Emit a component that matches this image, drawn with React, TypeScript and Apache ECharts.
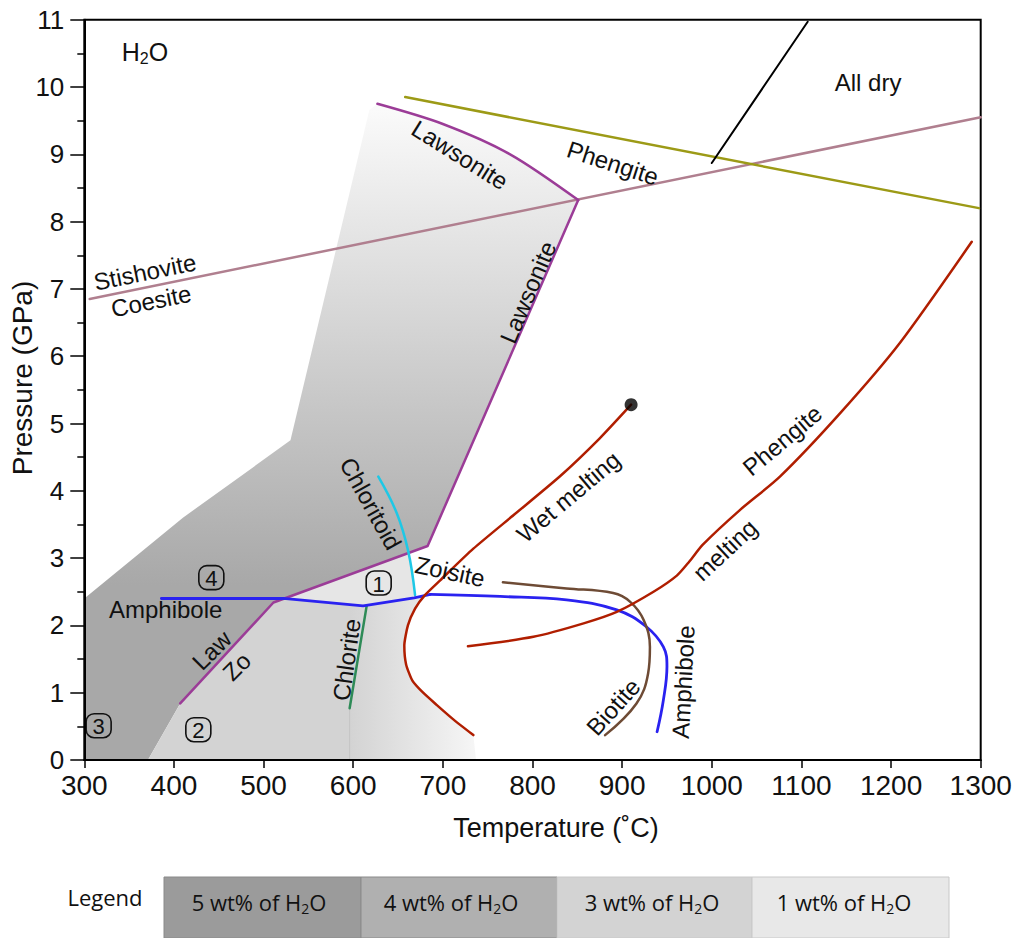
import React, { useEffect, useRef } from 'react';
import * as echarts from 'echarts';

const FONT = 'Liberation Sans, Arial, Helvetica, sans-serif';
const LFONT = 'Open Sans, Noto Sans, sans-serif';

// Axes
const tempMin = 300, tempMax = 1300, tempStep = 100;
const pressMin = 0, pressMax = 11, pressStep = 1;

// Reaction curves (T in °C, P in GPa)
const lawsoniteTop = [[627, 9.75], [700, 9.45], [775, 9.0], [851, 8.32]];
const lawsoniteLower = [[851, 8.32], [683, 3.18], [511, 2.34], [407, 0.84]];
const amphiboleStraight = [[386, 2.40], [522, 2.40], [611, 2.29], [668, 2.41], [686, 2.46]];
const amphiboleCurve = [[686, 2.46], [764, 2.43], [838, 2.38], [894, 2.23], [927, 1.98], [946, 1.68], [950, 1.39], [946, 0.89], [939, 0.42]];
const biotite = [[767, 2.64], [838, 2.55], [890, 2.48], [909, 2.35], [924, 2.08], [931, 1.68], [929, 1.29], [916, 0.84], [881, 0.37]];
const chloritoid = [[628, 4.21], [648.5, 3.67], [661.4, 3.10], [669, 2.45]];
const chlorite = [[615, 2.29], [596, 0.77]];
const chloriteFaint = [[596, 0.77], [596, 0]];
const wetMelting = [[910, 5.28], [875, 4.78], [831, 4.22], [779, 3.64], [734, 3.14], [697, 2.67], [680, 2.45], [669, 2.25], [661, 2.0], [657, 1.70], [659, 1.42], [666, 1.18], [678, 1.0], [693, 0.82], [712, 0.60], [734, 0.37]];
const wetSolidusEnd = [[910, 5.28]];
const phengiteMelting = [[728, 1.69], [801, 1.83], [857, 2.03], [894, 2.20], [935, 2.50], [961, 2.74], [975, 2.95], [990, 3.20], [1031, 3.71], [1076, 4.21], [1143, 5.15], [1210, 6.20], [1290, 7.70]];
const stishoviteCoesite = [[306, 6.85], [1300, 9.55]];
const phengiteOut = [[658, 9.85], [1298, 8.20]];
const allDry = [[1000, 8.87], [1107, 10.97]];

// Shaded water-content fields
const field5wt = [[300, 0], [300, 2.4], [410, 3.6], [530, 4.75], [618, 9.66], ...lawsoniteTop, [683, 3.18], [511, 2.34], [407, 0.84], [371, 0]];
const field3wtUpper = [[371, 0], [407, 0.84], [511, 2.34], [522, 2.40], [611, 2.29], [668, 2.41]];
const field3wt = [...field3wtUpper, ...wetMelting.slice(6), [737, 0]];
const field1wt = [[522, 2.40], [662, 3.08], [665, 2.80], [669, 2.42], [611, 2.29]];

// Labels
const labelText = ['Lawsonite', 'Phengite', 'Lawsonite', 'Stishovite', 'Coesite', 'Chloritoid', 'Zoisite', 'Amphibole', 'Law', 'Zo', 'Chlorite', 'Wet melting', 'Phengite', 'melting', 'Biotite', 'Amphibole', 'All dry'];
const labelT = [719, 889.6, 795, 367.7, 374.5, 619.5, 708, 390.8, 442.1, 470, 592.7, 840, 1078.7, 1014.7, 890.1, 968.2, 1174.4];
const labelP = [8.99, 8.87, 6.95, 7.25, 6.82, 3.81, 2.80, 2.23, 1.63, 1.39, 1.49, 3.91, 4.75, 3.12, 0.79, 1.16, 10.07];
const labelRot = [-32, -18, 67, 11.5, 11.5, -61, -12, 0, 45, 45, 82, 40, 40, 43, 48, 87, 0];

const fieldNumbers = ['1', '2', '3', '4'];
const fieldNumT = [628.4, 427.2, 316, 441.7];
const fieldNumP = [2.63, 0.45, 0.51, 2.71];

const legendItems = ['5 wt% of H', '4 wt% of H', '3 wt% of H', '1 wt% of H'];
const legendColors = ['#9b9b9b', '#b0b0b0', '#d3d3d3', '#e8e8e8'];

const polySeries = (pts: number[][], fill: (api: any) => any) => ({
  type: 'custom',
  coordinateSystem: 'cartesian2d',
  silent: true,
  z: 1,
  data: pts,
  renderItem: (params: any, api: any) => {
    if (params.dataIndex !== 0) return null;
    return {
      type: 'polygon',
      shape: { points: pts.map((p) => api.coord(p)) },
      style: { fill: fill(api) },
    };
  },
});

const lineSeries = (data: number[][], color: string, width = 2.5, smooth: number | boolean = false) => ({
  type: 'line',
  data,
  symbol: 'none',
  showSymbol: false,
  smooth,
  silent: true,
  clip: false,
  z: 3,
  lineStyle: { color, width, cap: 'round', join: 'round' },
});

export default function App() {
  const ref = useRef<HTMLDivElement>(null);
  useEffect(() => {
    const chart = echarts.init(ref.current!, null, { renderer: 'svg' });
    const legendX = [164, 361, 557, 752];
    const legendW = [197, 196, 195, 197];
    const legendTextX = [259, 451, 652, 844];
    const graphic: any[] = [
      {
        type: 'text', x: 22, y: 378, rotation: Math.PI / 2,
        style: { text: 'Pressure (GPa)', fontSize: 28, fontFamily: FONT, fill: '#111', align: 'center', verticalAlign: 'middle' },
      },
      {
        type: 'text', x: 556, y: 828,
        style: { text: 'Temperature (˚C)', fontSize: 27, fontFamily: FONT, fill: '#111', align: 'center', verticalAlign: 'middle' },
      },
      {
        type: 'text', x: 105, y: 897,
        style: { text: 'Legend', fontSize: 22, fontFamily: LFONT, fill: '#111', align: 'center', verticalAlign: 'middle' },
      },
    ];
    legendItems.forEach((t, i) => {
      graphic.push({
        type: 'rect',
        shape: { x: legendX[i], y: 877, width: legendW[i], height: 61 },
        style: { fill: legendColors[i], stroke: i < 2 ? '#8a8a8a' : '#c8c8c8', lineWidth: 1 },
      });
      graphic.push({
        type: 'text', x: legendTextX[i], y: 902,
        style: {
          text: `{n|${t}}{s|2}{n|O}`,
          align: 'center', verticalAlign: 'middle',
          rich: {
            n: { fontSize: 22, fontFamily: LFONT, fill: '#111', lineHeight: 26 },
            s: { fontSize: 14, fontFamily: LFONT, fill: '#111', lineHeight: 16, verticalAlign: 'bottom' },
          },
        },
      });
    });

    const option: any = {
      animation: false,
      backgroundColor: '#fff',
      textStyle: { fontFamily: FONT },
      grid: { left: 84.3, right: 36.3, top: 19.7, bottom: 178, show: true, borderColor: '#000', borderWidth: 2, backgroundColor: 'transparent' },
      xAxis: {
        type: 'value', min: tempMin, max: tempMax, interval: tempStep, z: 10,
        axisLine: { lineStyle: { color: '#000', width: 2 } },
        axisTick: { length: 8, lineStyle: { color: '#000', width: 1.5 } },
        axisLabel: { fontSize: 28, color: '#111', margin: 11, fontFamily: FONT, formatter: (v: number) => String(v) },
        splitLine: { show: false },
      },
      yAxis: {
        type: 'value', min: pressMin, max: pressMax, interval: pressStep, z: 10,
        axisLine: { lineStyle: { color: '#000', width: 2 } },
        axisTick: { length: 14, lineStyle: { color: '#000', width: 1.5 } },
        minorTick: { show: true, splitNumber: 2, length: 7, lineStyle: { color: '#000', width: 1.5 } },
        axisLabel: { fontSize: 26, color: '#111', margin: 20, fontFamily: FONT, formatter: (v: number) => String(v) },
        splitLine: { show: false },
      },
      graphic,
      series: [
        polySeries(field5wt, (api) => {
          const y0 = api.coord([tempMin, 9.75])[1];
          const y1 = api.coord([tempMin, 2.6])[1];
          return new echarts.graphic.LinearGradient(0, y0, 0, y1, [
            { offset: 0, color: '#fbfbfb' },
            { offset: 1, color: '#a8a8a8' },
          ], true);
        }),
        polySeries(field3wt, (api) => {
          const x0 = api.coord([596, 0])[0];
          const x1 = api.coord([745, 0])[0];
          return new echarts.graphic.LinearGradient(x0, 0, x1, 0, [
            { offset: 0, color: '#d3d3d3' },
            { offset: 1, color: '#f8f8f8' },
          ], true);
        }),
        polySeries(field1wt, () => '#e6e6e6'),
        lineSeries(chloriteFaint, '#c4c4c4', 1),
        lineSeries(stishoviteCoesite, '#b07f8f', 2.5),
        lineSeries(phengiteOut, '#9c9a16', 2.5),
        lineSeries(allDry, '#000', 2),
        lineSeries(lawsoniteTop, '#9b3c97', 2.5, 0.3),
        lineSeries(lawsoniteLower, '#9b3c97', 2.5),
        lineSeries(chloritoid, '#1ec8e6', 2.5, 0.4),
        lineSeries(chlorite, '#2e8b57', 2.5),
        lineSeries(amphiboleStraight, '#2a22f0', 2.8),
        lineSeries(amphiboleCurve, '#2a22f0', 2.8, 0.4),
        lineSeries(biotite, '#6e4b35', 2.5, 0.4),
        lineSeries(wetMelting, '#b01e00', 2.5, 0.2),
        lineSeries(phengiteMelting, '#b01e00', 2.5, 0.25),
        {
          type: 'scatter', data: wetSolidusEnd, symbolSize: 13, silent: true, z: 5,
          itemStyle: { color: '#000' },
        },
        {
          type: 'custom', coordinateSystem: 'cartesian2d', silent: true, z: 6,
          data: labelT.map((t, i) => [t, labelP[i]]),
          renderItem: (params: any, api: any) => {
            const i = params.dataIndex;
            const pt = api.coord([api.value(0), api.value(1)]);
            return {
              type: 'text', x: pt[0], y: pt[1], rotation: (labelRot[i] * Math.PI) / 180,
              style: { text: labelText[i], fontSize: 24, fontFamily: FONT, fill: '#111', align: 'center', verticalAlign: 'middle' },
            };
          },
        },
        {
          type: 'custom', coordinateSystem: 'cartesian2d', silent: true, z: 6,
          data: fieldNumT.map((t, i) => [t, fieldNumP[i]]),
          renderItem: (params: any, api: any) => {
            const i = params.dataIndex;
            const pt = api.coord([api.value(0), api.value(1)]);
            return {
              type: 'group', x: pt[0], y: pt[1],
              children: [
                { type: 'rect', shape: { x: -12.5, y: -12, width: 25, height: 24, r: 8 }, style: { fill: 'none', stroke: '#111', lineWidth: 1.6 } },
                { type: 'text', style: { x: 0, y: 1, text: fieldNumbers[i], fontSize: 22, fontFamily: FONT, fill: '#111', align: 'center', verticalAlign: 'middle' } },
              ],
            };
          },
        },
        {
          type: 'custom', coordinateSystem: 'cartesian2d', silent: true, z: 6,
          data: [[367.7, 10.52]],
          renderItem: (params: any, api: any) => {
            const pt = api.coord([api.value(0), api.value(1)]);
            return {
              type: 'text', x: pt[0], y: pt[1],
              style: {
                text: '{n|H}{s|2}{n|O}', align: 'center', verticalAlign: 'middle',
                rich: {
                  n: { fontSize: 25, fontFamily: FONT, fill: '#111', lineHeight: 28 },
                  s: { fontSize: 16, fontFamily: FONT, fill: '#111', lineHeight: 18, verticalAlign: 'bottom' },
                },
              },
            };
          },
        },
      ],
    };
    chart.setOption(option);
    return () => chart.dispose();
  }, []);
  return <div ref={ref} style={{ position: 'absolute', left: 0, top: 0, width: 1017, height: 938, background: '#fff' }} />;
}
